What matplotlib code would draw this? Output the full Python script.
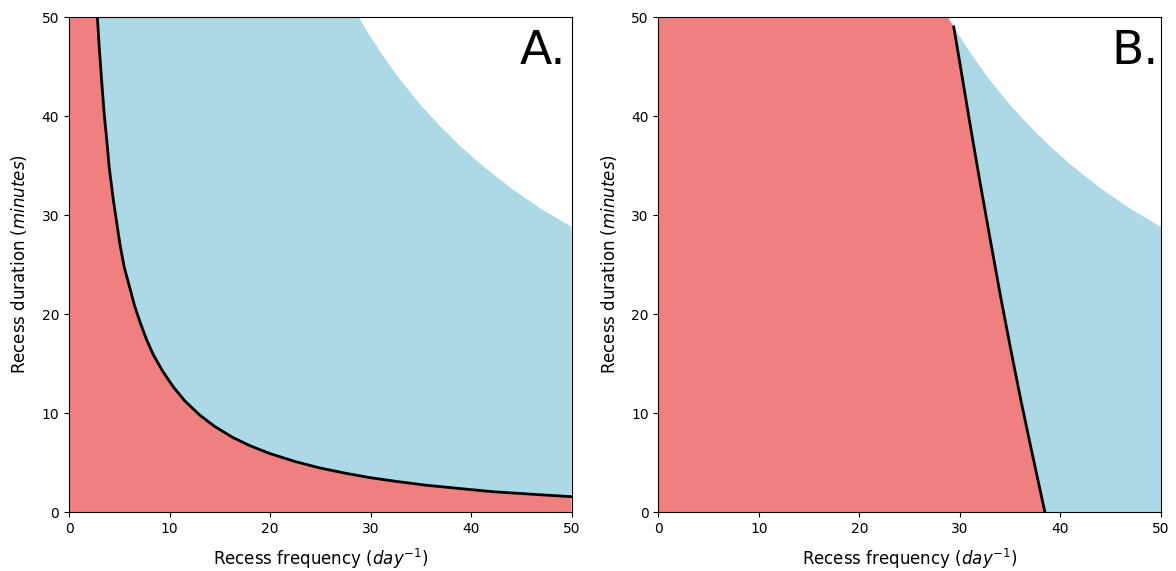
import numpy as np
import matplotlib.pyplot as plt

# upper limit of total recess time (one day of minutes)
lim_f = [28.8, 29.5, 30, 31, 32, 33, 34, 35, 36, 37, 38, 39, 40, 41, 42, 43, 44,
         45, 46, 47, 48, 49, 50]
lim_d = [50.0, 48.8, 48.0, 46.45, 45.0, 43.6, 42.35, 41.1, 40.0, 38.9, 37.9, 36.9,
         36.0, 35.1, 34.3, 33.5, 32.7, 32.0, 31.3, 30.6, 30.0, 29.4, 28.8]

# panel A threshold curve
a_f = [2.82, 3.0, 3.25, 3.5, 3.75, 4.0, 4.41, 4.75, 5.07, 5.5, 6.06, 6.5, 7.06,
       7.7, 8.38, 9.3, 10.37, 11.5, 13.0, 14.5, 16.3, 18, 20, 22.5, 24.95, 27.5,
       29.9, 32.5, 35.6, 39, 42.2, 46, 50]
a_d = [50.0, 47.0, 43.5, 40.2, 37.6, 34.8, 31.5, 29.2, 27.0, 24.7, 22.6, 20.9, 19.2,
       17.45, 15.9, 14.25, 12.65, 11.25, 9.8, 8.64, 7.53, 6.7, 5.9, 5.1, 4.45, 3.92,
       3.48, 3.1, 2.7, 2.36, 2.05, 1.8, 1.55]

# panel B threshold curve
b_f = [29.38, 30.0, 31.0, 32.0, 33.0, 34.0, 35.0, 36.0, 37.0, 38.45]
b_d = [49.0, 45.3, 39.2, 33.3, 27.6, 22.0, 16.7, 11.6, 6.8, 0.0]

red = 'lightcoral'
blue = 'lightblue'

fig, (ax1, ax2) = plt.subplots(1, 2, figsize=(11.76, 5.71), dpi=100)
fig.subplots_adjust(left=0.0587, right=0.9872, top=0.9702, bottom=0.1033, wspace=0.173)

# A.
ax1.fill([0, 0] + a_f + [50], [0, 50] + a_d + [0], color=red, lw=0)
ax1.fill(a_f + lim_f[::-1], a_d + lim_d[::-1], color=blue, lw=0)
ax1.plot(a_f, a_d, color='black', lw=2)
ax1.text(0.99, 0.975, 'A.', transform=ax1.transAxes, ha='right', va='top', fontsize=34)

# B.
lf = np.array(lim_f)
ld = np.array(lim_d)
keep = lf > b_f[0]
ax2.fill([0, 0, lim_f[0]] + b_f, [0, 50, lim_d[0]] + b_d, color=red, lw=0)
ax2.fill(b_f + [50] + list(lf[keep][::-1]), b_d + [0] + list(ld[keep][::-1]), color=blue, lw=0)
ax2.plot(b_f, b_d, color='black', lw=2)
ax2.text(0.995, 0.975, 'B.', transform=ax2.transAxes, ha='right', va='top', fontsize=34)

for ax in (ax1, ax2):
    ax.set_xlim(0, 50)
    ax.set_ylim(0, 50)
    ax.set_xticks(range(0, 51, 10))
    ax.set_yticks(range(0, 51, 10))
    ax.set_xlabel('Recess frequency ($day^{-1}$)', fontsize=12, labelpad=8)
    ax.set_ylabel('Recess duration ($minutes$)', fontsize=12, labelpad=9)

fig.savefig('out.png', dpi=100)
